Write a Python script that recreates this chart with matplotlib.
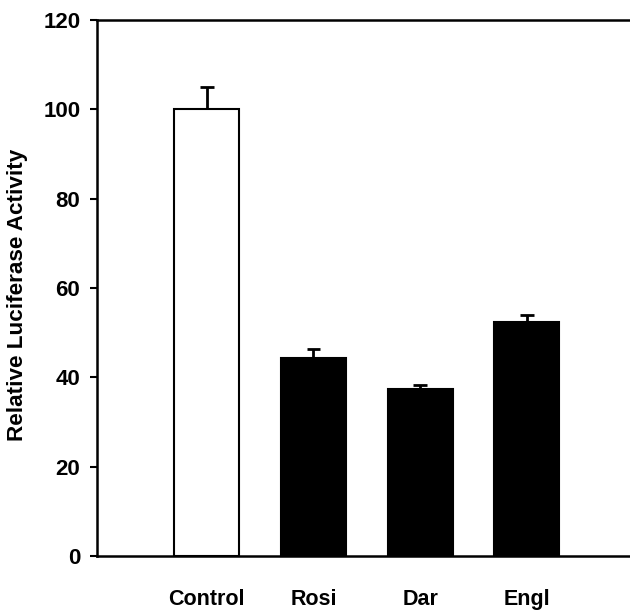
import numpy as np
import matplotlib.pyplot as plt

plt.rcParams['font.family'] = ['Liberation Sans', 'DejaVu Sans']

groups = ['Control', 'Rosi', 'Dar', 'Engl']
activity = [100, 44.3, 37.3, 52.4]
err_up = [5.0, 2.0, 1.1, 1.5]
colors = ['white', 'black', 'black', 'black']

fig = plt.figure(figsize=(6.3, 6.11), dpi=100)
ax = fig.add_axes([0.154, 0.090, 0.88, 0.877])

x = np.arange(len(groups))
ax.bar(x, activity, width=0.61, color=colors, edgecolor='black', linewidth=1.5, zorder=2)
# upper error bars only (no lower cap)
tops = np.array(activity) + np.array(err_up)
ax.vlines(x, activity, tops, colors='black', linewidth=2, zorder=3)
ax.hlines(tops, x - 0.065, x + 0.065, colors='black', linewidth=2, zorder=3)

ax.set_xlim(-1.03, 4.17)
ax.set_ylim(0, 120)
ax.set_yticks(range(0, 121, 20))
ax.set_xticks(x)
ax.set_xticklabels(groups, fontsize=15.5, fontweight='bold')
ax.tick_params(axis='x', length=0, pad=24)
ax.tick_params(axis='y', direction='out', length=5, width=1.5, labelsize=16, pad=7)
for lab in ax.get_yticklabels():
    lab.set_fontweight('bold')

ax.spines['right'].set_visible(False)
for s in ['left', 'top', 'bottom']:
    ax.spines[s].set_linewidth(1.8)

ax.set_ylabel('Relative Luciferase Activity', fontsize=16.2, fontweight='bold')
ax.yaxis.set_label_coords(-0.124, 0.487)

plt.savefig('out.png', dpi=100)
plt.close()
